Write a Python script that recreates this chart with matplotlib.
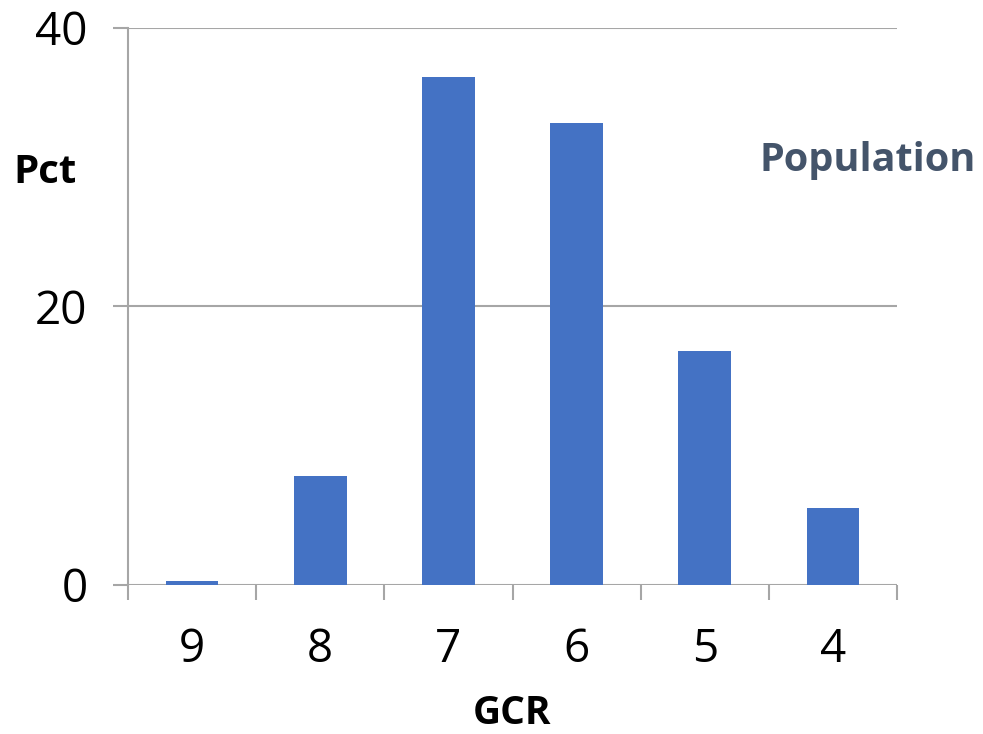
import matplotlib
matplotlib.use("Agg")
import matplotlib.pyplot as plt
import numpy as np

categories = ["9", "8", "7", "6", "5", "4"]
pct = [0.3, 7.8, 36.5, 33.2, 16.8, 5.5]
yticks = [0, 20, 40]

plt.rcParams['font.family'] = ['Open Sans', 'DejaVu Sans']

fig = plt.figure(figsize=(9.83, 7.34), dpi=100)
ax = fig.add_axes([128 / 983, 1 - 585 / 734, (897 - 128) / 983, (585 - 28) / 734])

x = np.arange(len(categories))
ax.bar(x, pct, width=0.41, color="#4472C4", zorder=3)

ax.set_xlim(-0.5, len(categories) - 0.5)
ax.set_ylim(0, 40)

grid_col = "#A6A6A6"
for v in yticks:
    ax.axhline(v, color=grid_col, lw=1.5, zorder=1)

for s in ["top", "right", "bottom"]:
    ax.spines[s].set_visible(False)
ax.spines["left"].set_color(grid_col)
ax.spines["left"].set_linewidth(1.5)

ax.set_yticks(yticks)
ax.set_yticklabels([str(v) for v in yticks], fontsize=33)
ax.tick_params(axis="y", length=11, width=1.5, color=grid_col, pad=18)

# category ticks at the boundaries
ax.set_xticks(np.arange(len(categories) + 1) - 0.5)
ax.set_xticklabels([])
ax.set_xticks(x, minor=True)
ax.set_xticklabels(categories, minor=True, fontsize=33)
ax.tick_params(axis="x", which="major", length=11, width=1.5, color=grid_col)
ax.tick_params(axis="x", which="minor", length=0, pad=30)

ax.text(-0.108, 0.741, "Pct", transform=ax.transAxes, fontsize=29, fontweight="bold",
        ha="center", va="center")
ax.text(512 / 983, 1 - 724 / 734, "GCR", transform=fig.transFigure, fontsize=28,
        fontweight="bold", ha="center", va="baseline")
ax.text(0.962, 0.763, "Population", transform=ax.transAxes, fontsize=28.5, fontweight="bold",
        color="#44546A", ha="center", va="center")

fig.savefig("out.png", dpi=100)
